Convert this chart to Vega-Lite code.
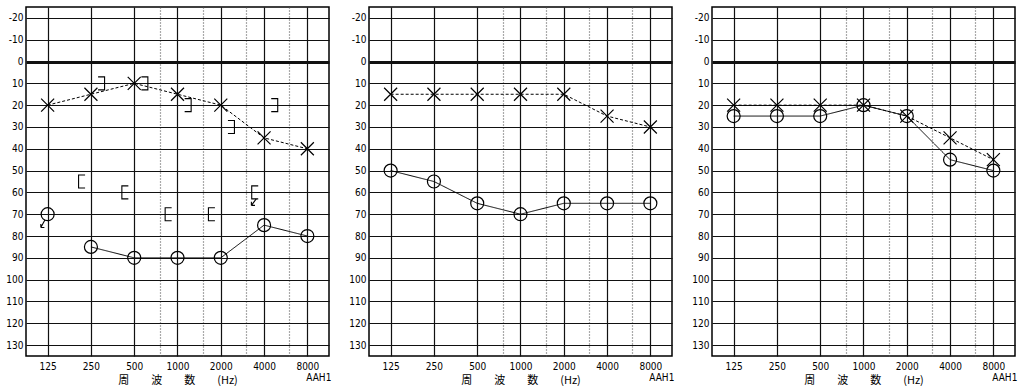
{
 "$schema": "https://vega.github.io/schema/vega-lite/v6.json",
 "background": "white",
 "padding": {"left": 0, "top": 6, "right": 0, "bottom": 0},
 "config": {
  "view": {"stroke": "black", "strokeWidth": 1.5},
  "font": "Liberation Sans Narrow, DejaVu Sans Condensed, Liberation Sans, sans-serif"
 },
 "data": {"values": [
  {"p":1,"k":"ac","e":"X","s":"x","f":125,"d":20},
  {"p":1,"k":"ac","e":"X","s":"x","f":250,"d":15},
  {"p":1,"k":"ac","e":"X","s":"x","f":500,"d":10},
  {"p":1,"k":"ac","e":"X","s":"x","f":1000,"d":15},
  {"p":1,"k":"ac","e":"X","s":"x","f":2000,"d":20},
  {"p":1,"k":"ac","e":"X","s":"x","f":4000,"d":35},
  {"p":1,"k":"ac","e":"X","s":"x","f":8000,"d":40},
  {"p":1,"k":"ac","e":"O","s":"o0","f":125,"d":70},
  {"p":1,"k":"ac","e":"O","s":"o1","f":250,"d":85},
  {"p":1,"k":"ac","e":"O","s":"o1","f":500,"d":90},
  {"p":1,"k":"ac","e":"O","s":"o1","f":1000,"d":90},
  {"p":1,"k":"ac","e":"O","s":"o1","f":2000,"d":90},
  {"p":1,"k":"ac","e":"O","s":"o1","f":4000,"d":75},
  {"p":1,"k":"ac","e":"O","s":"o1","f":8000,"d":80},
  {"p":1,"k":"bc","e":"R","f":250,"d":10},
  {"p":1,"k":"bc","e":"R","f":500,"d":10},
  {"p":1,"k":"bc","e":"R","f":1000,"d":20},
  {"p":1,"k":"bc","e":"R","f":2000,"d":30},
  {"p":1,"k":"bc","e":"R","f":4000,"d":20},
  {"p":1,"k":"bc","e":"L","f":250,"d":55},
  {"p":1,"k":"bc","e":"L","f":500,"d":60},
  {"p":1,"k":"bc","e":"L","f":1000,"d":70},
  {"p":1,"k":"bc","e":"L","f":2000,"d":70},
  {"p":1,"k":"bc","e":"L","f":4000,"d":60},
  {"p":1,"k":"arr","e":"A1","f":125,"d":70},
  {"p":1,"k":"arr","e":"A2","f":4000,"d":60},
  {"p":1,"k":"lab","t":"AAH1","f":8000,"d":135},
  {"p":2,"k":"ac","e":"X","s":"x","f":125,"d":15},
  {"p":2,"k":"ac","e":"X","s":"x","f":250,"d":15},
  {"p":2,"k":"ac","e":"X","s":"x","f":500,"d":15},
  {"p":2,"k":"ac","e":"X","s":"x","f":1000,"d":15},
  {"p":2,"k":"ac","e":"X","s":"x","f":2000,"d":15},
  {"p":2,"k":"ac","e":"X","s":"x","f":4000,"d":25},
  {"p":2,"k":"ac","e":"X","s":"x","f":8000,"d":30},
  {"p":2,"k":"ac","e":"O","s":"o","f":125,"d":50},
  {"p":2,"k":"ac","e":"O","s":"o","f":250,"d":55},
  {"p":2,"k":"ac","e":"O","s":"o","f":500,"d":65},
  {"p":2,"k":"ac","e":"O","s":"o","f":1000,"d":70},
  {"p":2,"k":"ac","e":"O","s":"o","f":2000,"d":65},
  {"p":2,"k":"ac","e":"O","s":"o","f":4000,"d":65},
  {"p":2,"k":"ac","e":"O","s":"o","f":8000,"d":65},
  {"p":2,"k":"lab","t":"AAH1","f":8000,"d":135},
  {"p":3,"k":"ac","e":"X","s":"x","f":125,"d":20},
  {"p":3,"k":"ac","e":"X","s":"x","f":250,"d":20},
  {"p":3,"k":"ac","e":"X","s":"x","f":500,"d":20},
  {"p":3,"k":"ac","e":"X","s":"x","f":1000,"d":20},
  {"p":3,"k":"ac","e":"X","s":"x","f":2000,"d":25},
  {"p":3,"k":"ac","e":"X","s":"x","f":4000,"d":35},
  {"p":3,"k":"ac","e":"X","s":"x","f":8000,"d":45},
  {"p":3,"k":"ac","e":"O","s":"o","f":125,"d":25},
  {"p":3,"k":"ac","e":"O","s":"o","f":250,"d":25},
  {"p":3,"k":"ac","e":"O","s":"o","f":500,"d":25},
  {"p":3,"k":"ac","e":"O","s":"o","f":1000,"d":20},
  {"p":3,"k":"ac","e":"O","s":"o","f":2000,"d":25},
  {"p":3,"k":"ac","e":"O","s":"o","f":4000,"d":45},
  {"p":3,"k":"ac","e":"O","s":"o","f":8000,"d":50},
  {"p":3,"k":"lab","t":"AAH1","f":8000,"d":135}
 ]},
 "facet": {"column": {"field": "p", "type": "ordinal", "header": {"title": null, "labels": false}}},
 "spacing": 40,
 "bounds": "flush",
 "resolve": {"axis": {"x": "independent", "y": "independent"}},
 "spec": {
  "width": 303,
  "height": 349,
  "encoding": {
   "x": {
    "field": "f", "type": "quantitative",
    "scale": {"type": "log", "domain": [88.39, 11314], "nice": false},
    "title": "周　　波　　数　　(Hz)",
    "axis": {
     "values": [125, 250, 500, 750, 1000, 1500, 2000, 3000, 4000, 6000, 8000],
     "labelExpr": "(datum.value==750||datum.value==1500||datum.value==3000||datum.value==6000) ? '' : '' + datum.value",
     "grid": true,
     "gridColor": {"condition": {"test": "datum.value==750||datum.value==1500||datum.value==3000||datum.value==6000", "value": "#555"}, "value": "#111"},
     "gridDash": {"condition": {"test": "datum.value==750||datum.value==1500||datum.value==3000||datum.value==6000", "value": [1, 2]}, "value": []},
     "gridWidth": 1.2,
     "gridOpacity": 1,
     "ticks": false,
     "domain": false,
     "labelFontSize": 10,
     "labelColor": "black",
     "labelPadding": 5,
     "labelOverlap": false,
     "labelFlush": false,
     "titleFont": "Noto Sans CJK JP",
     "titleFontSize": 11,
     "titleFontWeight": "normal",
     "titleColor": "black",
     "titlePadding": 3
    }
   },
   "y": {
    "field": "d", "type": "quantitative",
    "scale": {"domain": [-25, 135], "reverse": true, "nice": false, "zero": false},
    "title": null,
    "axis": {
     "values": [-20, -10, 0, 10, 20, 30, 40, 50, 60, 70, 80, 90, 100, 110, 120, 130],
     "labelExpr": "'' + datum.value",
     "grid": true,
     "gridColor": "#111",
     "gridOpacity": 1,
     "gridWidth": {"condition": {"test": "datum.value===0", "value": 3.2}, "value": 1.2},
     "ticks": false,
     "domain": false,
     "labelFontSize": 10,
     "labelColor": "black",
     "labelPadding": 3,
     "minExtent": 25,
     "maxExtent": 25
    }
   }
  },
  "layer": [
   {
    "transform": [{"filter": "datum.k=='ac'"}],
    "mark": {"type": "line", "color": "black", "strokeWidth": 1},
    "encoding": {
     "detail": {"field": "s"},
     "strokeDash": {"field": "e", "type": "nominal", "scale": {"domain": ["O", "X"], "range": [[1, 0], [3, 2]]}, "legend": null}
    }
   },
   {
    "transform": [{"filter": "datum.k=='ac' && datum.e=='O'"}],
    "mark": {"type": "point", "shape": "circle", "size": 169, "filled": false, "stroke": "black", "strokeWidth": 1.2, "opacity": 1}
   },
   {
    "transform": [{"filter": "datum.k=='ac' && datum.e=='X'"}],
    "mark": {"type": "point", "shape": "M-1,-1L1,1M1,-1L-1,1", "size": 169, "filled": false, "stroke": "black", "strokeWidth": 1.2, "opacity": 1}
   },
   {
    "transform": [{"filter": "datum.k=='bc' || datum.k=='arr'"}],
    "mark": {"type": "point", "size": 169, "filled": false, "stroke": "black", "strokeWidth": 1.1, "opacity": 1},
    "encoding": {
     "shape": {"field": "e", "type": "nominal", "legend": null,
      "scale": {"domain": ["L", "R", "A1", "A2"],
       "range": ["M-0.9,-1H-1.9V1H-0.9", "M1.1,-1H2.1V1H1.1", "M-0.4,0.85L-1.05,2.05M-1.05,2.05L-1.05,1.5M-1.05,2.05L-0.5,2.05", "M-1.2,1L-1.95,2M-1.95,2L-1.95,1.45M-1.95,2L-1.4,2"]}}
    }
   },
   {
    "transform": [{"filter": "datum.k=='lab'"}],
    "mark": {"type": "text", "align": "right", "baseline": "middle", "dx": 24, "dy": 22, "fontSize": 10, "color": "black"},
    "encoding": {"text": {"field": "t"}}
   }
  ]
 }
}
